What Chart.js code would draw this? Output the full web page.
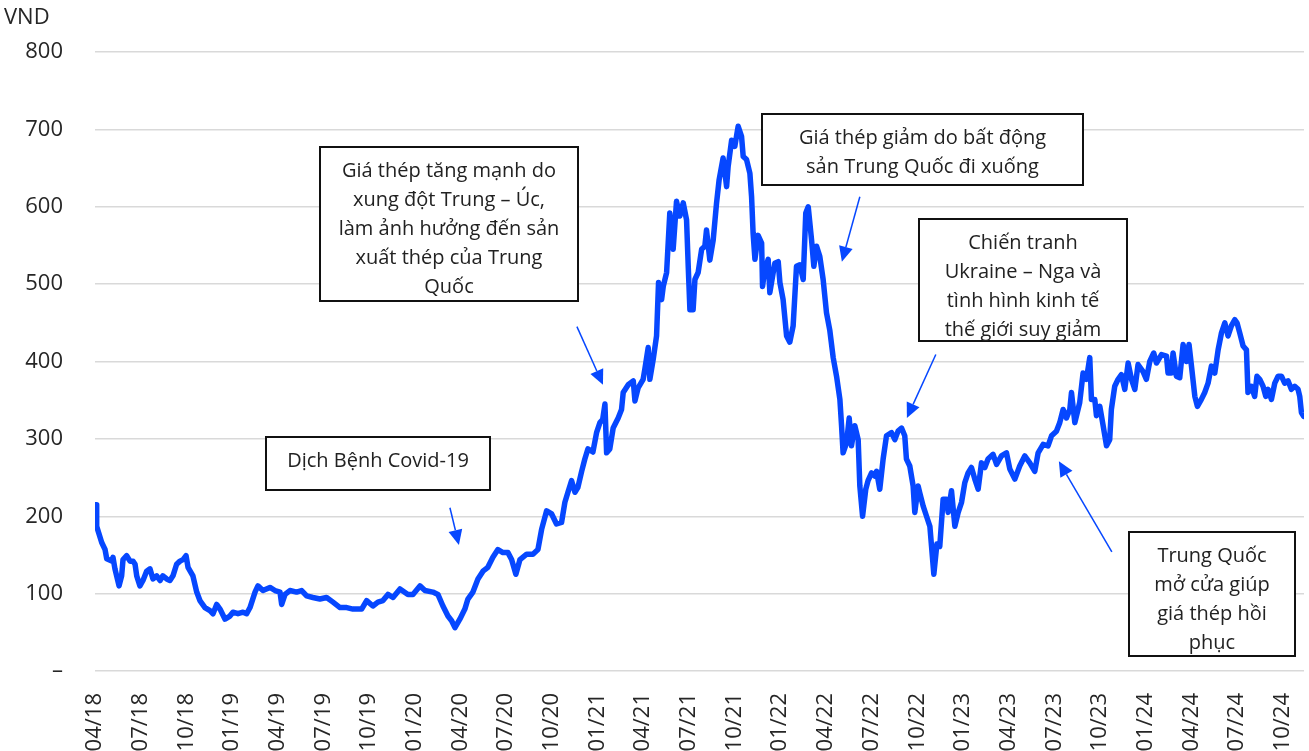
<!DOCTYPE html>
<html>
<head>
<meta charset="utf-8">
<title>Giá thép</title>
<script src="https://cdn.jsdelivr.net/npm/chart.js@4.4.1/dist/chart.umd.min.js"></script>
<style>
  html, body { margin: 0; padding: 0; background: #fff; }
</style>
</head>
<body>
<canvas id="steelChart" width="1309" height="751"></canvas>
<script>
// x values are months counted from 04/2018 (0 = 04/18)
const tickMonths = [0, 3, 6, 9, 12, 15, 18, 21, 24, 27, 30, 33, 36, 39, 42, 45, 48, 51, 54, 57, 60, 63, 66, 69, 72, 75, 78];
const tickLabels = ['04/18', '07/18', '10/18', '01/19', '04/19', '07/19', '10/19', '01/20', '04/20', '07/20',
  '10/20', '01/21', '04/21', '07/21', '10/21', '01/22', '04/22', '07/22', '10/22', '01/23',
  '04/23', '07/23', '10/23', '01/24', '04/24', '07/24', '10/24'];

const monthIdx = [
  0.07, 0.11, 0.44, 0.66, 0.77, 1.10, 1.18, 1.31, 1.58, 1.75, 1.84, 2.08, 2.30, 2.50, 2.63, 2.74, 2.95, 3.15, 3.39, 3.61,
  3.81, 4.05, 4.27, 4.46, 4.71, 4.92, 5.12, 5.36, 5.58, 5.78, 5.98, 6.11, 6.43, 6.68, 6.89, 7.22, 7.55, 7.75, 7.99, 8.21,
  8.54, 8.86, 9.06, 9.39, 9.72, 9.96, 10.18, 10.51, 10.70, 11.03, 11.49, 11.82, 12.15, 12.26, 12.48, 12.80, 13.24, 13.57, 13.90, 14.31,
  14.77, 15.21, 15.63, 16.09, 16.53, 16.94, 17.51, 17.84, 18.25, 18.58, 18.91, 19.24, 19.57, 20.03, 20.55, 20.88, 21.34, 21.67, 22.19, 22.52,
  22.85, 23.18, 23.42, 23.64, 23.96, 24.29, 24.49, 24.82, 25.15, 25.48, 25.80, 26.13, 26.46, 26.79, 27.12, 27.36, 27.64, 27.91, 28.35, 28.76,
  29.09, 29.33, 29.66, 29.99, 30.31, 30.64, 30.86, 31.06, 31.30, 31.52, 31.71, 31.96, 32.17, 32.37, 32.70, 32.94, 33.16, 33.34, 33.49, 33.60,
  33.81, 34.03, 34.36, 34.58, 34.69, 35.02, 35.35, 35.46, 35.67, 36.00, 36.11, 36.33, 36.44, 36.66, 36.88, 37.01, 37.21, 37.32, 37.54, 37.75,
  37.97, 38.19, 38.41, 38.63, 38.85, 38.96, 39.07, 39.28, 39.40, 39.61, 39.84, 40.05, 40.16, 40.38, 40.60, 40.82, 40.99, 41.25, 41.48, 41.58,
  41.81, 42.02, 42.24, 42.46, 42.57, 42.79, 43.01, 43.12, 43.22, 43.34, 43.55, 43.78, 43.84, 43.99, 44.21, 44.32, 44.54, 44.65, 44.87, 44.98,
  45.19, 45.42, 45.63, 45.85, 46.07, 46.29, 46.51, 46.68, 46.84, 47.06, 47.21, 47.39, 47.60, 47.82, 48.04, 48.26, 48.48, 48.70, 48.92, 49.03,
  49.13, 49.36, 49.53, 49.68, 49.90, 50.12, 50.23, 50.41, 50.62, 50.77, 51.00, 51.21, 51.33, 51.54, 51.76, 51.98, 52.31, 52.53, 52.74, 52.97,
  53.18, 53.29, 53.51, 53.73, 53.84, 54.06, 54.17, 54.39, 54.61, 54.83, 55.09, 55.29, 55.48, 55.70, 55.92, 56.03, 56.25, 56.47, 56.69, 56.91,
  57.12, 57.34, 57.56, 57.78, 58.00, 58.22, 58.44, 58.65, 58.98, 59.21, 59.53, 59.86, 60.08, 60.41, 60.73, 61.06, 61.39, 61.72, 61.94, 62.27,
  62.59, 62.82, 63.14, 63.36, 63.58, 63.80, 64.02, 64.13, 64.35, 64.67, 64.89, 65.11, 65.33, 65.44, 65.66, 65.77, 65.99, 66.21, 66.43, 66.64,
  66.75, 66.97, 67.19, 67.41, 67.63, 67.85, 68.07, 68.29, 68.50, 68.83, 69.05, 69.27, 69.53, 69.71, 70.04, 70.37, 70.47, 70.69, 70.80, 71.02,
  71.24, 71.46, 71.68, 71.85, 72.01, 72.23, 72.40, 72.66, 72.88, 73.10, 73.32, 73.54, 73.76, 73.98, 74.20, 74.41, 74.63, 74.85, 75.00, 75.18,
  75.40, 75.62, 75.72, 75.94, 76.16, 76.31, 76.49, 76.71, 76.89, 77.04, 77.26, 77.48, 77.70, 77.92, 78.13, 78.35, 78.57, 78.79, 79.01, 79.12,
  79.23, 79.38
];

const priceVnd = [
  215, 187, 166, 157, 145, 142, 147, 132, 110, 123, 144, 149, 142, 142, 138, 123, 110, 117, 129, 132,
  119, 123, 117, 123, 119, 117, 123, 138, 142, 144, 149, 134, 123, 102, 91, 82, 78, 74, 86, 80,
  67, 71, 76, 74, 76, 74, 82, 102, 110, 104, 108, 104, 102, 86, 99, 104, 102, 104, 97, 95,
  93, 95, 89, 82, 82, 80, 80, 91, 84, 89, 91, 99, 95, 106, 99, 99, 110, 104, 102, 99,
  84, 71, 65, 56, 67, 80, 93, 102, 119, 129, 134, 147, 157, 153, 153, 144, 125, 144, 151, 151,
  157, 183, 207, 203, 190, 192, 218, 231, 246, 231, 237, 258, 274, 287, 283, 308, 321, 325, 345, 282,
  287, 314, 327, 338, 360, 370, 375, 349, 366, 377, 390, 418, 377, 403, 433, 502, 480, 497, 515, 592,
  545, 607, 588, 605, 583, 523, 467, 467, 506, 515, 545, 549, 570, 531, 557, 605, 635, 663, 626, 652,
  686, 678, 704, 691, 665, 661, 643, 613, 566, 532, 563, 553, 497, 519, 532, 489, 515, 527, 529, 502,
  480, 433, 425, 446, 523, 525, 506, 592, 600, 557, 523, 549, 536, 506, 463, 440, 405, 381, 351, 317,
  282, 295, 327, 291, 317, 299, 239, 200, 235, 246, 256, 252, 258, 235, 274, 304, 308, 299, 310, 314,
  304, 274, 265, 239, 205, 239, 230, 213, 200, 187, 125, 164, 161, 222, 222, 205, 233, 187, 205, 218,
  243, 256, 263, 248, 235, 269, 263, 274, 280, 267, 278, 282, 261, 248, 265, 278, 269, 258, 282, 293,
  291, 304, 310, 321, 338, 327, 338, 360, 321, 347, 385, 377, 405, 351, 351, 330, 342, 317, 291, 299,
  338, 368, 377, 383, 364, 398, 377, 364, 396, 387, 377, 400, 411, 398, 409, 407, 385, 385, 411, 381,
  379, 422, 400, 422, 394, 355, 342, 351, 360, 372, 394, 385, 415, 437, 450, 433, 446, 454, 450, 437,
  420, 415, 360, 368, 355, 381, 377, 368, 355, 364, 351, 372, 381, 381, 372, 375, 364, 368, 364, 355,
  334, 329
];

// text boxes: top-left corner anchored at (month, value), size in px
const notes = [
  { lines: ['Dịch Bệnh Covid-19'], m: 11.23, v: 303, w: 224, h: 53 },
  { lines: ['Giá thép tăng mạnh do', 'xung đột Trung – Úc,', 'làm ảnh hưởng đến sản', 'xuất thép của Trung', 'Quốc'], m: 14.77, v: 676.6, w: 258, h: 154 },
  { lines: ['Giá thép giảm do bất động', 'sản Trung Quốc đi xuống'], m: 43.79, v: 719.3, w: 321, h: 71 },
  { lines: ['Chiến tranh', 'Ukraine – Nga và', 'tình hình kinh tế', 'thế giới suy giảm'], m: 54.10, v: 584.7, w: 208, h: 122 },
  { lines: ['Trung Quốc', 'mở cửa giúp', 'giá thép hồi', 'phục'], m: 67.89, v: 179.3, w: 166, h: 124 }
];

const arrows = [
  { from: [23.31, 211], to: [23.90, 163] },
  { from: [31.65, 445], to: [33.36, 370] },
  { from: [50.23, 613], to: [49.05, 529] },
  { from: [55.22, 409], to: [53.32, 327] },
  { from: [66.78, 154], to: [63.30, 271] }
];

const lineBlue = '#0647ff';

Chart.defaults.font.family = '"Open Sans", sans-serif';
Chart.defaults.font.size = 22;
Chart.defaults.color = '#262626';

// draws the VND label, arrows and the comment boxes
const notesPlugin = {
  id: 'notes',
  afterDatasetsDraw(chart) {
    const { ctx, scales: { x, y } } = chart;
    ctx.save();

    ctx.fillStyle = '#262626';
    ctx.font = '22px "Open Sans", sans-serif';
    ctx.textAlign = 'left';
    ctx.textBaseline = 'middle';
    ctx.fillText('VND', 4, 18);

    arrows.forEach(a => {
      const x1 = x.getPixelForValue(a.from[0]), y1 = y.getPixelForValue(a.from[1]);
      const x2 = x.getPixelForValue(a.to[0]), y2 = y.getPixelForValue(a.to[1]);
      const ang = Math.atan2(y2 - y1, x2 - x1);
      const hl = 15, hw = 7;
      const bx = x2 - hl * Math.cos(ang), by = y2 - hl * Math.sin(ang);
      ctx.strokeStyle = lineBlue;
      ctx.lineWidth = 1.5;
      ctx.beginPath();
      ctx.moveTo(x1, y1);
      ctx.lineTo(bx, by);
      ctx.stroke();
      ctx.fillStyle = lineBlue;
      ctx.beginPath();
      ctx.moveTo(x2, y2);
      ctx.lineTo(bx + hw * Math.sin(ang), by - hw * Math.cos(ang));
      ctx.lineTo(bx - hw * Math.sin(ang), by + hw * Math.cos(ang));
      ctx.closePath();
      ctx.fill();
    });

    notes.forEach(n => {
      const left = Math.round(x.getPixelForValue(n.m)), top = Math.round(y.getPixelForValue(n.v));
      ctx.fillStyle = '#fff';
      ctx.fillRect(left, top, n.w, n.h);
      ctx.strokeStyle = '#111';
      ctx.lineWidth = 2;
      ctx.strokeRect(left, top, n.w, n.h);
      ctx.fillStyle = '#222';
      ctx.font = '20px "Open Sans", sans-serif';
      ctx.textAlign = 'center';
      ctx.textBaseline = 'middle';
      n.lines.forEach((t, i) => ctx.fillText(t, left + n.w / 2, top + 24 + i * 29));
    });

    ctx.restore();
  }
};

const ctx = document.getElementById('steelChart').getContext('2d');
new Chart(ctx, {
  type: 'line',
  data: {
    datasets: [{
      label: 'Giá thép',
      data: monthIdx.map((m, i) => ({ x: m, y: priceVnd[i] })),
      borderColor: lineBlue,
      borderWidth: 5.5,
      borderJoinStyle: 'round',
      borderCapStyle: 'round',
      pointRadius: 0,
      tension: 0,
      fill: false
    }]
  },
  options: {
    responsive: false,
    animation: false,
    layout: { padding: { top: 52, right: 5, left: 0, bottom: 0 } },
    plugins: {
      legend: { display: false },
      tooltip: { enabled: false }
    },
    scales: {
      x: {
        type: 'linear',
        min: 0,
        max: 79.4,
        grid: { display: false },
        border: { display: false },
        afterBuildTicks: scale => { scale.ticks = tickMonths.map(v => ({ value: v })); },
        afterFit: scale => {
          scale.height = 80;
          scale.paddingLeft = 0;
          scale.paddingRight = 0;
        },
        ticks: {
          autoSkip: false,
          minRotation: 90,
          maxRotation: 90,
          padding: 14,
          callback: value => tickLabels[tickMonths.indexOf(value)]
        }
      },
      y: {
        min: 0,
        max: 800,
        grid: { color: '#d9d9d9', lineWidth: 1.5, drawTicks: false },
        border: { display: false },
        afterFit: scale => {
          scale.width = 95;
          scale.paddingTop = 0;
          scale.paddingBottom = 0;
        },
        ticks: {
          stepSize: 100,
          padding: 32,
          callback: value => (value === 0 ? '–' : value)
        }
      }
    }
  },
  plugins: [notesPlugin]
});
</script>
</body>
</html>
